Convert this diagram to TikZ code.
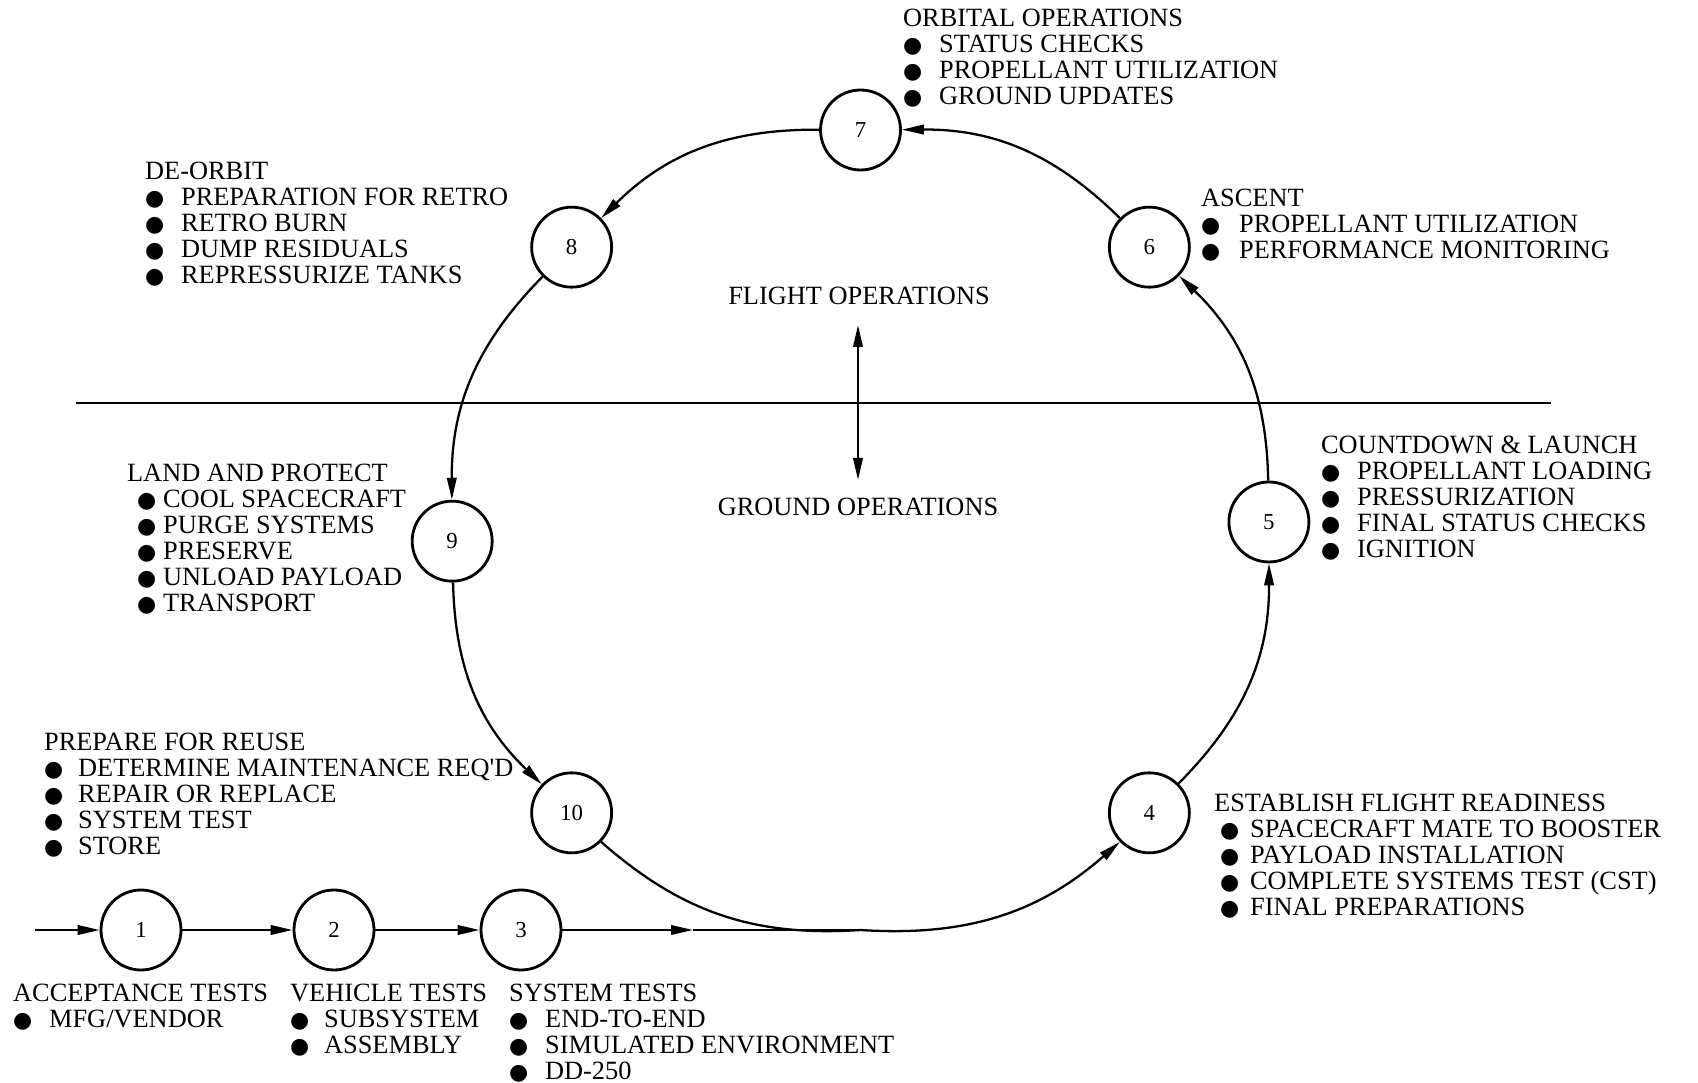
\documentclass[tikz,border=0pt]{standalone}
\usepackage{fontspec}
\setmainfont{Liberation Serif}
\newfontfamily\symfont{DejaVu Sans}
\usetikzlibrary{arrows.meta,positioning,calc}
\newcommand{\bul}{{\symfont\fontsize{12.5}{12.5}\selectfont ●}}
\newcommand{\itm}[2][7.2mm]{\makebox[#1][l]{\bul}#2}

\begin{document}
\begin{tikzpicture}[font=\fontsize{15}{14.8}\selectfont, line width=1.3pt,
  >={Triangle[length=4.4mm,width=1.9mm]},
  stage/.style={circle, draw, line width=1.6pt, minimum size=1.6cm, inner sep=0pt, font=\fontsize{13}{13}\selectfont},
  lbl/.style={anchor=north west, align=left, inner sep=0pt}]
\useasboundingbox (0,0) rectangle (33.96,-21.66);
\coordinate (c) at (17.21,-10.60);
\coordinate (bot) at (17.21,-18.60);
\foreach \n/\a in {4/315,5/1.15,6/45,7/90,8/135,9/181.6,10/225}{\node[stage] (n\n) at ($(c)+(\a:8.17 and 8)$) {\n};}
\foreach \a/\b in {4/5,5/6,6/7,7/8,8/9,9/10}{\draw[->] (n\a) to[bend right=22.5] (n\b);}
\node[stage] (n1) at (2.82,-18.60) {1};
\node[stage] (n2) at (6.68,-18.60) {2};
\node[stage] (n3) at (10.42,-18.60) {3};
\coordinate (in) at (0.70,-18.60);
\coordinate (mid) at (13.86,-18.60);
\draw[->] (in) -- (n1);
\draw[->] (n1) -- (n2);
\draw[->] (n2) -- (n3);
\draw[->] (n3) -- (mid);
\draw (mid) -- (bot);
\draw (n10) to[bend right=22.5] (bot);
\draw[->] (bot) to[bend right=22.5] (n4);
\coordinate (divl) at (1.52,-8.06);
\coordinate (divr) at (31.02,-8.06);
\draw (divl) -- (divr);
\node (flight) at (17.18,-5.92) {FLIGHT OPERATIONS};
\node (ground) at (17.16,-10.14) {GROUND OPERATIONS};
\coordinate (up) at (17.16,-6.50);
\coordinate (dn) at (17.16,-9.60);
\draw[<->] (up) -- (dn);
\node[lbl] (orbit) at (18.04,-0.16) {ORBITAL OPERATIONS\\ \itm{STATUS CHECKS}\\ \itm{PROPELLANT UTILIZATION}\\ \itm{GROUND UPDATES}};
\node[lbl] (deorbit) at (2.88,-3.22) {DE-ORBIT\\ \itm{PREPARATION FOR RETRO}\\ \itm{RETRO BURN}\\ \itm{DUMP RESIDUALS}\\ \itm{REPRESSURIZE TANKS}};
\node[lbl] (ascent) at (24.00,-3.76) {ASCENT\\ \itm[7.6mm]{PROPELLANT UTILIZATION}\\ \itm[7.6mm]{PERFORMANCE MONITORING}};
\node[lbl] (launch) at (26.40,-8.70) {COUNTDOWN \& LAUNCH\\ \itm{PROPELLANT LOADING}\\ \itm{PRESSURIZATION}\\ \itm{FINAL STATUS CHECKS}\\ \itm{IGNITION}};
\node[lbl] (land) at (2.52,-9.26) {LAND AND PROTECT\\ \hspace*{2mm}\itm[5.2mm]{COOL SPACECRAFT}\\ \hspace*{2mm}\itm[5.2mm]{PURGE SYSTEMS}\\ \hspace*{2mm}\itm[5.2mm]{PRESERVE}\\ \hspace*{2mm}\itm[5.2mm]{UNLOAD PAYLOAD}\\ \hspace*{2mm}\itm[5.2mm]{TRANSPORT}};
\node[lbl] (reuse) at (0.86,-14.64) {PREPARE FOR REUSE\\ \itm[6.8mm]{DETERMINE MAINTENANCE REQ\textquotesingle D}\\ \itm[6.8mm]{REPAIR OR REPLACE}\\ \itm[6.8mm]{SYSTEM TEST}\\ \itm[6.8mm]{STORE}};
\node[lbl] (ready) at (24.26,-15.86) {ESTABLISH FLIGHT READINESS\\ \hspace*{1.2mm}\itm[6mm]{SPACECRAFT MATE TO BOOSTER}\\ \hspace*{1.2mm}\itm[6mm]{PAYLOAD INSTALLATION}\\ \hspace*{1.2mm}\itm[6mm]{COMPLETE SYSTEMS TEST (CST)}\\ \hspace*{1.2mm}\itm[6mm]{FINAL PREPARATIONS}};
\node[lbl] (accept) at (0.24,-19.66) {ACCEPTANCE TESTS\\ \itm{MFG/VENDOR}};
\node[lbl] (vehicle) at (5.78,-19.66) {VEHICLE TESTS\\ \itm[6.8mm]{SUBSYSTEM}\\ \itm[6.8mm]{ASSEMBLY}};
\node[lbl] (system) at (10.16,-19.66) {SYSTEM TESTS\\ \itm{END-TO-END}\\ \itm{SIMULATED ENVIRONMENT}\\ \itm{DD-250}};
\end{tikzpicture}
\end{document}
